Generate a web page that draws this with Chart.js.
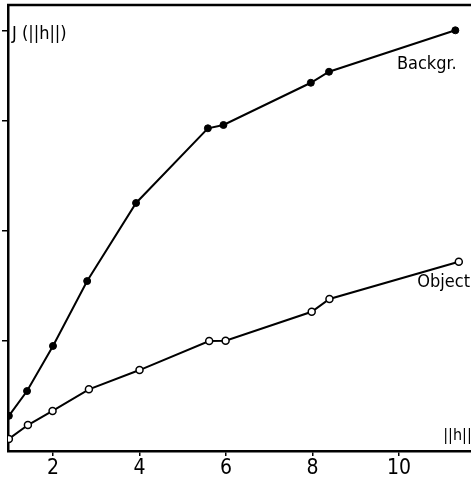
<!DOCTYPE html>
<html>
<head>
<meta charset="utf-8">
<script src="https://cdn.jsdelivr.net/npm/chart.js@4/dist/chart.umd.min.js"></script>
<style>
  html, body { margin: 0; padding: 0; background: #fff; overflow: hidden; }
  /* the figure is cut off on the right, so the plot runs past the window edge */
  #wrap { width: 480px; height: 484px; position: relative; }
  canvas { display: block; }
</style>
</head>
<body>
<div id="wrap"><canvas id="chart"></canvas></div>
<script>
// values (x = ||h||, y = J in arbitrary units)
var backgrX = [0.98, 1.4, 2.0, 2.79, 3.92, 5.58, 5.94, 7.96, 8.38, 11.3];
var backgrY = [0.32, 0.545, 0.955, 1.545, 2.255, 2.934, 2.964, 3.348, 3.448, 3.825];
var objectX = [0.98, 1.42, 1.99, 2.83, 4.0, 5.61, 5.99, 7.98, 8.39, 11.38];
var objectY = [0.11, 0.236, 0.364, 0.561, 0.736, 1.0, 1.003, 1.266, 1.382, 1.721];
var xTicks = [2, 4, 6, 8, 10];
var yTicks = [1, 2, 3, 3.82];

function toPoints(xs, ys) {
  return xs.map(function (x, i) {
    return { x: x, y: ys[i] };
  });
}

var font = "'DejaVu Sans Condensed', 'DejaVu Sans', sans-serif";

// draws the top frame line and the hand-lettered labels
var decorations = {
  id: "decorations",
  afterDraw: function (chart) {
    var ctx = chart.ctx;
    var area = chart.chartArea;
    var xs = chart.scales.x;
    var ys = chart.scales.y;
    ctx.save();
    ctx.strokeStyle = "#000";
    ctx.lineWidth = 2.5;
    ctx.beginPath();
    ctx.moveTo(area.left - 1, area.top);
    ctx.lineTo(area.right, area.top);
    ctx.stroke();

    ctx.fillStyle = "#000";
    ctx.textBaseline = "middle";
    ctx.textAlign = "left";
    ctx.font = "18px " + font;
    ctx.fillText("J (||h||)", area.left + 4, 34);
    ctx.fillText("Backgr.", xs.getPixelForValue(9.95), ys.getPixelForValue(3.52));
    ctx.fillText("Object", xs.getPixelForValue(10.42), ys.getPixelForValue(1.535));
    ctx.font = "16px " + font;
    ctx.textAlign = "right";
    ctx.fillText("||h||", xs.getPixelForValue(11.68), area.bottom - 15);
    ctx.restore();
  },
};

var ctx = document.getElementById("chart").getContext("2d");
var chart = new Chart(ctx, {
  type: "line",
  data: {
    datasets: [
      {
        label: "Backgr.",
        data: toPoints(backgrX, backgrY),
        borderColor: "#000",
        borderWidth: 2,
        backgroundColor: "#000",
        pointRadius: 3.5,
        pointBorderWidth: 1,
        pointBorderColor: "#000",
        tension: 0,
      },
      {
        label: "Object",
        data: toPoints(objectX, objectY),
        borderColor: "#000",
        borderWidth: 2,
        backgroundColor: "#fff",
        pointRadius: 3.5,
        pointBorderWidth: 1.5,
        pointBorderColor: "#000",
        tension: 0,
      },
    ],
  },
  options: {
    responsive: true,
    maintainAspectRatio: false,
    animation: false,
    layout: { autoPadding: false, padding: { top: 5, right: 0, left: 0, bottom: 0 } },
    plugins: {
      legend: { display: false },
      tooltip: { enabled: false },
    },
    scales: {
      x: {
        type: "linear",
        min: 0.96,
        max: 11.87,
        afterBuildTicks: function (scale) {
          scale.ticks = xTicks.map(function (v) {
            return { value: v };
          });
        },
        afterFit: function (scale) {
          scale.height = 33;
          scale.paddingLeft = 0;
          scale.paddingRight = 0;
        },
        border: { color: "#000", width: 2.5 },
        grid: {
          drawOnChartArea: false,
          color: "#000",
          lineWidth: 1.5,
          tickLength: 5,
        },
        ticks: {
          color: "#000",
          padding: 0,
          maxRotation: 0,
          font: { family: font, size: 21 },
        },
      },
      y: {
        type: "linear",
        min: 0,
        max: 4.055,
        afterBuildTicks: function (scale) {
          scale.ticks = yTicks.map(function (v) {
            return { value: v };
          });
        },
        afterFit: function (scale) {
          scale.width = 8;
          scale.paddingTop = 0;
          scale.paddingBottom = 0;
        },
        border: { color: "#000", width: 2.5 },
        grid: {
          drawOnChartArea: false,
          color: "#000",
          lineWidth: 1.5,
          tickLength: 6,
        },
        ticks: { display: false },
      },
    },
  },
  plugins: [decorations],
});
</script>
</body>
</html>
